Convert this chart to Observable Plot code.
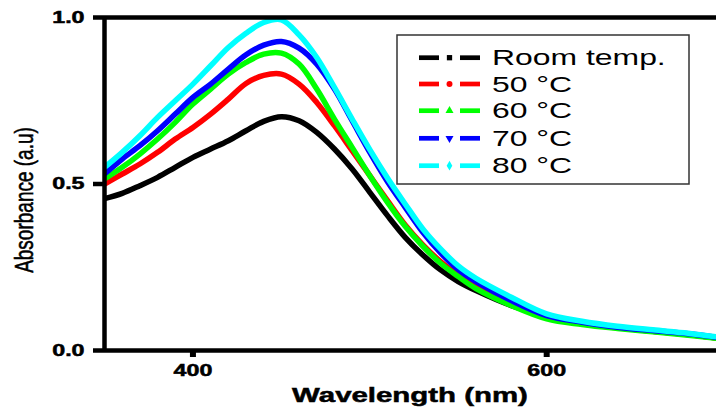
<!DOCTYPE html>
<html><head><meta charset="utf-8">
<script src="https://cdn.jsdelivr.net/npm/d3@7"></script>
<script src="https://cdn.jsdelivr.net/npm/@observablehq/plot@0.6"></script>
<style>
body{margin:0;background:#fff}
#chart svg{display:block}
</style>
</head><body><div id="chart"></div>
<script>
const wavelength = [350,360,370,380,390,400,410,420,430,440,450,460,470,480,490,500,510,520,530,540,550,560,580,600,620,640,660,680,700];
const roomTemp = [0.456,0.472,0.495,0.52,0.55,0.58,0.605,0.63,0.66,0.688,0.702,0.69,0.655,0.605,0.545,0.475,0.405,0.34,0.287,0.242,0.207,0.18,0.135,0.105,0.085,0.07,0.058,0.048,0.035];
const temp50 = [0.50,0.53,0.56,0.595,0.635,0.67,0.71,0.755,0.802,0.826,0.83,0.8,0.745,0.675,0.60,0.525,0.45,0.377,0.317,0.267,0.226,0.19,0.14,0.10,0.08,0.068,0.058,0.048,0.035];
const temp60 = [0.515,0.55,0.59,0.635,0.685,0.74,0.785,0.83,0.865,0.89,0.893,0.86,0.785,0.695,0.61,0.525,0.445,0.373,0.313,0.262,0.222,0.186,0.135,0.095,0.078,0.066,0.056,0.046,0.034];
const temp70 = [0.53,0.575,0.615,0.66,0.71,0.76,0.80,0.845,0.888,0.917,0.928,0.908,0.86,0.785,0.69,0.595,0.507,0.43,0.355,0.293,0.243,0.207,0.15,0.105,0.085,0.07,0.06,0.05,0.037];
const temp80 = [0.55,0.595,0.645,0.70,0.75,0.80,0.855,0.91,0.953,0.985,0.993,0.948,0.88,0.79,0.695,0.603,0.518,0.44,0.365,0.305,0.254,0.217,0.16,0.11,0.088,0.073,0.062,0.052,0.038];

const seriesNames = ["Room temp.", "50 °C", "60 °C", "70 °C", "80 °C"];
const seriesValues = [roomTemp, temp50, temp60, temp70, temp80];
const seriesColors = ["#000000", "#ff0000", "#00ff00", "#0000ff", "#00ffff"];
const seriesSymbols = ["square", "circle", "triangle", "triangle-down", "diamond"];
const xTicks = [400, 600];
const yTicks = [0, 0.5, 1.0];

const rows = [];
seriesNames.forEach((name, i) => {
  wavelength.forEach((w, j) => rows.push({w, a: seriesValues[i][j], name}));
});

const FONT = "Liberation Sans, Arial, sans-serif";

const plot = Plot.plot({
  width: 716,
  height: 416,
  marginLeft: 104,
  marginRight: 0,
  marginTop: 17,
  marginBottom: 66,
  style: {fontFamily: FONT, color: "#000", background: "#fff"},
  x: {domain: [350, 696], label: null},
  y: {domain: [0, 1], label: null},
  color: {domain: seriesNames, range: seriesColors},
  marks: [
    Plot.line(rows, {x: "w", y: "a", z: "name", stroke: "name", strokeWidth: 5.5, curve: "catmull-rom", clip: true}),
    Plot.ruleX([350], {strokeWidth: 4.5, stroke: "#000"}),
    Plot.ruleY([0], {strokeWidth: 4.5, stroke: "#000"}),
    Plot.ruleY([1], {strokeWidth: 4.5, stroke: "#000"}),
    Plot.axisY({ticks: yTicks, tickSize: 11, tickPadding: 9, strokeWidth: 4.5, tickFormat: d3.format(".1f"), label: null, fontSize: 16, fontWeight: "bold"}),
    Plot.axisX({ticks: xTicks, tickSize: 7, tickPadding: 7, strokeWidth: 6, tickFormat: d => String(d), label: null, fontSize: 16, fontWeight: "bold"})
  ]
});
document.getElementById("chart").appendChild(plot);

const svg = d3.select(plot);
// style and stretch tick labels horizontally like the reference
svg.selectAll("text").each(function() {
  this.style.fontSize = "16px";
  this.style.fontWeight = "bold";
  this.style.fontFamily = FONT;
  this.setAttribute("stroke", "#000");
  this.setAttribute("stroke-width", 0.5);
  this.removeAttribute("textLength");
  const len = this.getComputedTextLength();
  this.setAttribute("textLength", len * 1.45);
  this.setAttribute("lengthAdjust", "spacingAndGlyphs");
});

// axis titles
const xt = svg.append("text")
  .attr("x", 410).attr("y", 402)
  .attr("text-anchor", "middle")
  .style("font-family", FONT)
  .style("font-weight", "bold").style("font-size", "21px")
  .attr("fill", "#000")
  .attr("stroke", "#000").attr("stroke-width", 0.5)
  .text("Wavelength (nm)");
xt.attr("textLength", xt.node().getComputedTextLength() * 1.4).attr("lengthAdjust", "spacingAndGlyphs");

svg.append("text")
  .attr("transform", "translate(33,200) scale(1.4,1) rotate(-90)")
  .attr("text-anchor", "middle")
  .style("font-family", FONT)
  .style("font-weight", "normal").style("font-size", "19px")
  .attr("fill", "#000")
  .attr("stroke", "#000").attr("stroke-width", 0.4)
  .text("Absorbance (a.u)");

// legend
const lg = svg.append("g").attr("font-weight", "normal").attr("text-anchor", "start");
lg.append("rect").attr("x", 397).attr("y", 35).attr("width", 292).attr("height", 149)
  .attr("fill", "#fff").attr("stroke", "#333").attr("stroke-width", 1.5);
const rowY = [57.7, 84, 110.7, 138.3, 165.7];
const symMap = {square: d3.symbolSquare, circle: d3.symbolCircle, triangle: d3.symbolTriangle, "triangle-down": d3.symbolTriangle, diamond: d3.symbolDiamond};
seriesNames.forEach((name, i) => {
  const y = rowY[i];
  const c = seriesColors[i];
  lg.append("line").attr("x1", 419).attr("x2", 439).attr("y1", y).attr("y2", y).attr("stroke", c).attr("stroke-width", 4.7);
  lg.append("line").attr("x1", 460).attr("x2", 480).attr("y1", y).attr("y2", y).attr("stroke", c).attr("stroke-width", 4.7);
  const rot = seriesSymbols[i] === "triangle-down" ? 180 : 0;
  lg.append("path").attr("d", d3.symbol(symMap[seriesSymbols[i]], 28)())
    .attr("transform", `translate(449.5,${y}) rotate(${rot})`).attr("fill", c);
  const t = lg.append("text").attr("x", 492).attr("y", y + 7.5)
    .attr("text-anchor", "start")
    .style("font-family", FONT).style("font-size", "22px")
    .style("font-weight", "normal").attr("fill", "#000").text(name);
  t.attr("textLength", t.node().getComputedTextLength() * 1.45).attr("lengthAdjust", "spacingAndGlyphs");
});
</script>
</body></html>
